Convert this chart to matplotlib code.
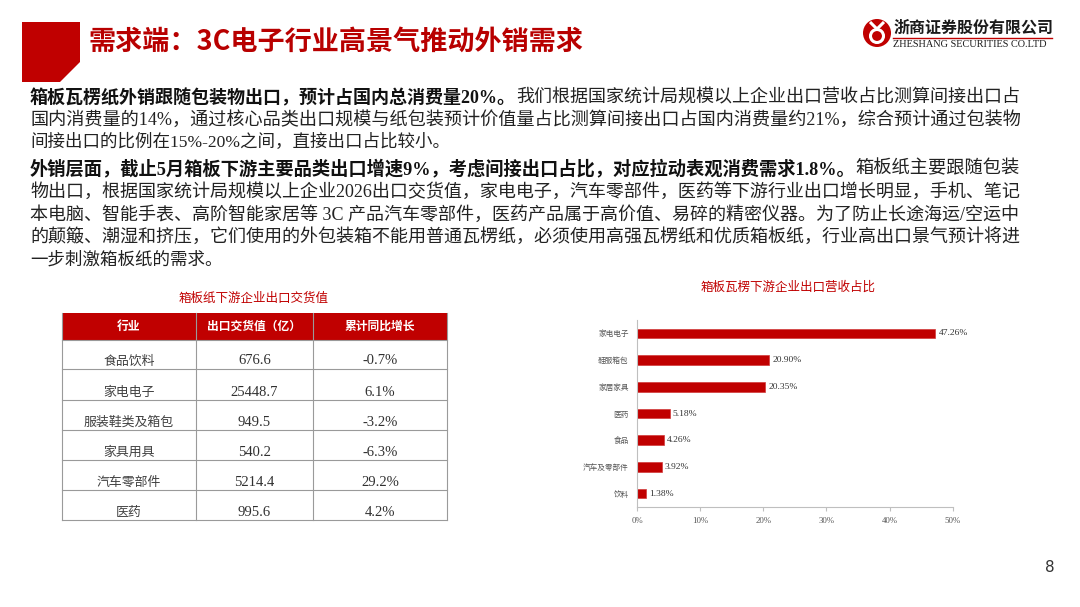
import matplotlib
matplotlib.use("Agg")
import matplotlib.pyplot as plt
from matplotlib.patches import Polygon, Circle, Rectangle

# ---- data ----
title = "需求端：3C电子行业高景气推动外销需求"

para1 = [
    ("箱板瓦楞纸外销跟随包装物出口，预计占国内总消费量20%。", "我们根据国家统计局规模以上企业出口营收占比测算间接出口占"),
    ("", "国内消费量的14%，通过核心品类出口规模与纸包装预计价值量占比测算间接出口占国内消费量约21%，综合预计通过包装物"),
    ("", "间接出口的比例在15%-20%之间，直接出口占比较小。"),
]
para2 = [
    ("外销层面，截止5月箱板下游主要品类出口增速9%，考虑间接出口占比，对应拉动表观消费需求1.8%。", "箱板纸主要跟随包装"),
    ("", "物出口，根据国家统计局规模以上企业2026出口交货值，家电电子，汽车零部件，医药等下游行业出口增长明显，手机、笔记"),
    ("", "本电脑、智能手表、高阶智能家居等 3C 产品汽车零部件，医药产品属于高价值、易碎的精密仪器。为了防止长途海运/空运中"),
    ("", "的颠簸、潮湿和挤压，它们使用的外包装箱不能用普通瓦楞纸，必须使用高强瓦楞纸和优质箱板纸，行业高出口景气预计将进"),
    ("", "一步刺激箱板纸的需求。"),
]

table_title = "箱板纸下游企业出口交货值"
table_header = ["行业", "出口交货值（亿）", "累计同比增长"]
table_industries = ["食品饮料", "家电电子", "服装鞋类及箱包", "家具用具", "汽车零部件", "医药"]
table_values = [676.6, 25448.7, 949.5, 540.2, 5214.4, 995.6]
table_growth = [-0.7, 6.1, -3.2, -6.3, 29.2, 4.2]

bar_title = "箱板瓦楞下游企业出口营收占比"
bar_categories = ["家电电子", "鞋服箱包", "家居家具", "医药", "食品", "汽车及零部件", "饮料"]
bar_shares = [47.26, 20.90, 20.35, 5.18, 4.26, 3.92, 1.38]

RED = "#C00000"
MIX = ["Liberation Serif", "Noto Sans CJK SC"]
CJK = ["Noto Sans CJK SC", "DejaVu Sans"]

fig = plt.figure(figsize=(10.8, 6.07), dpi=100)
bg = fig.add_axes([0, 0, 1, 1])
bg.set_xlim(0, 1080)
bg.set_ylim(607, 0)
bg.axis("off")

# header block + title
bg.add_patch(Polygon([(22, 22), (80, 22), (80, 62), (60, 82), (22, 82)],
                     closed=True, color=RED, lw=0))
bg.text(88, 42, title, family=CJK, weight="bold", fontsize=19.5, color="#B80000",
        va="center", ha="left")

# logo
bg.add_patch(Circle((877, 33), 14, color=RED, lw=0))
bg.add_patch(Circle((877, 36), 6.5, fill=False, ec="white", lw=2.2))
bg.add_patch(Polygon([(870, 22), (877, 29), (884, 22)], closed=False, fill=False, ec="white", lw=2.2))
bg.text(893, 28, "浙商证券股份有限公司", family=CJK, weight="bold", fontsize=11.5,
        color="#1a1a1a", va="center", ha="left")
bg.plot([893, 1052], [37.5, 37.5], color=RED, lw=1)
bg.text(893, 44.5, "ZHESHANG SECURITIES CO.LTD", family=["Liberation Serif"], fontsize=7.4,
        color="#1a1a1a", va="center", ha="left")

# paragraphs, justified between x0 and x1
renderer = fig.canvas.get_renderer()
x0, x1 = 30, 1022
base_fs = 12.6


def draw_line(y, bold, normal, fs):
    objs = []
    x = x0
    if bold:
        t = bg.text(x, y, bold, family=MIX, weight="bold", fontsize=fs, color="#111111",
                    va="center", ha="left")
        objs.append(t)
        x += t.get_window_extent(renderer).width
    if normal:
        t = bg.text(x, y, normal, family=MIX, fontsize=fs, color="#222222",
                    va="center", ha="left")
        objs.append(t)
    return objs


def draw_para(lines, y_start, step):
    for i, (b, n) in enumerate(lines):
        y = y_start + i * step
        objs = draw_line(y, b, n, base_fs)
        if i < len(lines) - 1:
            right = objs[-1].get_window_extent(renderer).x1
            fs = base_fs * (x1 - x0) / (right - x0)
            for o in objs:
                o.remove()
            draw_line(y, b, n, fs)


draw_para(para1, 98, 22)
draw_para(para2, 169, 22.8)

# table
bg.text(254, 298, table_title, family=CJK, fontsize=9, color=RED, ha="center", va="center")
col_x = [62, 196, 313, 447]
row_y = [313, 340, 369, 400, 430, 460, 490, 520]
bg.add_patch(Rectangle((col_x[0], row_y[0]), col_x[-1] - col_x[0], row_y[1] - row_y[0],
                       color=RED, lw=0))
for j, h in enumerate(table_header):
    bg.text((col_x[j] + col_x[j + 1]) / 2, (row_y[0] + row_y[1]) / 2, h, family=CJK,
            weight="bold", fontsize=8.5, color="white", ha="center", va="center")
line_c = "#9a9a9a"
for yv in row_y[1:]:
    bg.plot([col_x[0], col_x[-1]], [yv, yv], color=line_c, lw=0.8)
for xv in col_x:
    bg.plot([xv, xv], [row_y[0], row_y[-1]], color=line_c, lw=0.8)
for i, (name, val, g) in enumerate(zip(table_industries, table_values, table_growth)):
    ty = row_y[i + 2] - 8
    bg.text((col_x[0] + col_x[1]) / 2, ty, name, family=CJK, fontsize=9.3, color="#404040",
            ha="center", va="center")
    bg.text((col_x[1] + col_x[2]) / 2, ty, f"{val:.1f}", family=MIX, fontsize=10.5,
            color="#303030", ha="center", va="center")
    bg.text((col_x[2] + col_x[3]) / 2, ty, f"{g:.1f}%", family=MIX, fontsize=10.5,
            color="#303030", ha="center", va="center")

# bar chart
bg.text(788, 287, bar_title, family=CJK, fontsize=9, color=RED, ha="center", va="center")
ax = fig.add_axes([637 / 1080, 1 - 507 / 607, (952.7 - 637) / 1080, (507 - 320) / 607])
ypos = list(range(len(bar_categories)))
ax.barh(ypos, bar_shares, height=0.36, color=RED, edgecolor="#d23a3a", lw=0.5)
for yy, v in zip(ypos, bar_shares):
    ax.text(v + 0.5, yy, f"{v:.2f}%", family=MIX, fontsize=6.8, color="#333333",
            va="center", ha="left")
ax.set_xlim(0, 50)
ax.set_ylim(len(bar_categories) - 0.5, -0.5)
ax.set_yticks(ypos)
ax.set_yticklabels(bar_categories, family=CJK, fontsize=5.5, color="#555555")
ax.set_xticks(range(0, 51, 10))
ax.set_xticklabels([f"{t}%" for t in range(0, 51, 10)], family=MIX, fontsize=6.3, color="#555555")
ax.tick_params(axis="y", length=0, pad=6)
ax.tick_params(axis="x", length=3, color="#bfbfbf", pad=4)
for s in ["top", "right"]:
    ax.spines[s].set_visible(False)
for s in ["left", "bottom"]:
    ax.spines[s].set_color("#bfbfbf")
    ax.spines[s].set_linewidth(0.8)
ax.patch.set_alpha(0)

# page number
bg.text(1050, 568, "8", family=["DejaVu Sans"], fontsize=11, color="#333333",
        ha="center", va="center")

fig.savefig("out.png", dpi=100)
